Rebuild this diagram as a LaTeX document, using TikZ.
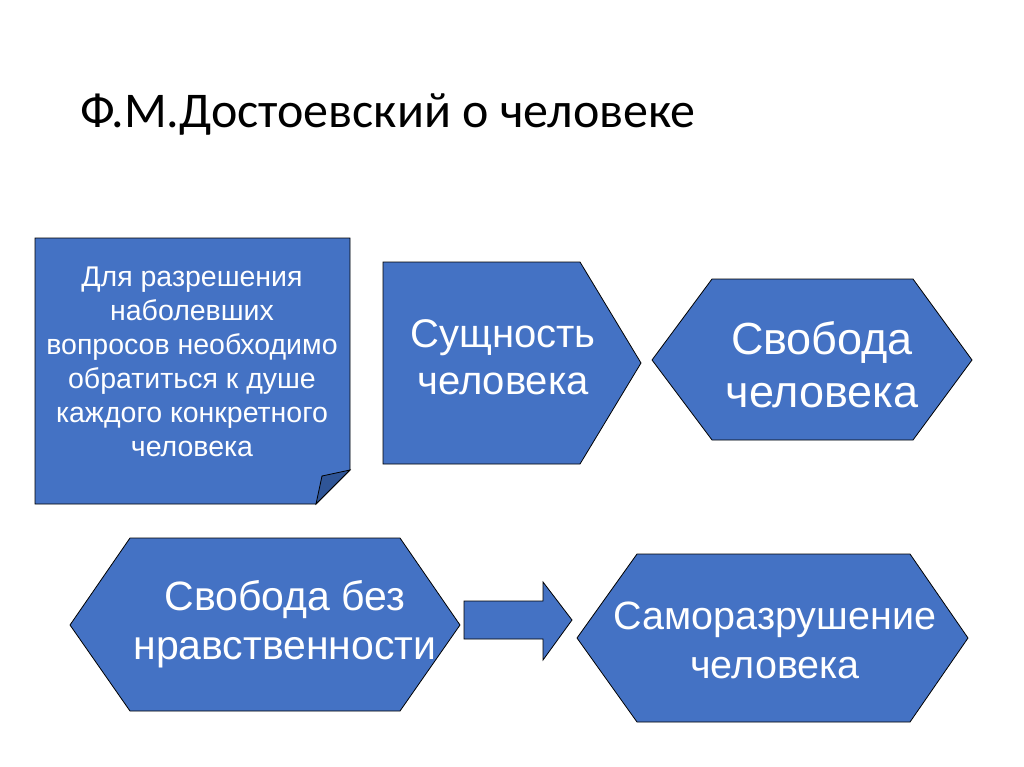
\documentclass[tikz,border=0pt]{standalone}
\usepackage{fontspec}
\setmainfont{Liberation Sans}
\newfontfamily\titlefont{Carlito}
\definecolor{boxblue}{HTML}{4472C4}
\definecolor{folddark}{HTML}{2F5597}
\begin{document}
\begin{tikzpicture}[x=1pt,y=-1pt,
  shp/.style={fill=boxblue,draw=black,line width=0.8pt,line join=miter},
  txt/.style={text=white,align=center,inner sep=0pt}]
\useasboundingbox (0,0) rectangle (1024,767);
\fill[white] (0,0) rectangle (1024,767);
\node[anchor=base west,inner sep=0pt,font=\titlefont\fontsize{50}{56}\selectfont] (title) at (80,128) {Ф.М.Достоевский о человеке};
% note box
\draw[shp] (35,238) -- (350,238) -- (350,470) -- (316,504) -- (35,504) -- cycle;
\draw[shp,fill=folddark] (316,504) -- (322,476) -- (350,470) -- cycle;
\node[txt,font=\fontsize{28.5}{34}\selectfont] (note) at (192,362) {Для разрешения\\наболевших\\вопросов необходимо\\обратиться к душе\\каждого конкретного\\человека};
% pentagon
\draw[shp] (383,262) -- (580,262) -- (641,363) -- (580,464) -- (383,464) -- cycle;
\node[txt,font=\fontsize{40}{47}\selectfont] (essence) at (503,357) {Сущность\\человека};
% hexagon 2
\draw[shp] (652,360) -- (712,279) -- (913,279) -- (972,360) -- (913,440) -- (712,440) -- cycle;
\node[txt,font=\fontsize{45}{53}\selectfont] (freedom) at (822,365) {Свобода\\человека};
% hexagon 3
\draw[shp] (70,625) -- (130,538) -- (400,538) -- (460,625) -- (400,711) -- (130,711) -- cycle;
\node[txt,font=\fontsize{41}{49}\selectfont] (nomoral) at (285,624) {Свобода без\\нравственности};
% hexagon 4
\draw[shp] (577,638) -- (637,554) -- (910,554) -- (968,638) -- (910,722) -- (637,722) -- cycle;
\node[txt,font=\fontsize{39.5}{49}\selectfont] (selfdestr) at (775,640) {Саморазрушение\\человека};
% block arrow
\draw[shp] (464,601) -- (543,601) -- (543,582) -- (572,620) -- (543,660) -- (543,639) -- (464,639) -- cycle;
\end{tikzpicture}
\end{document}
